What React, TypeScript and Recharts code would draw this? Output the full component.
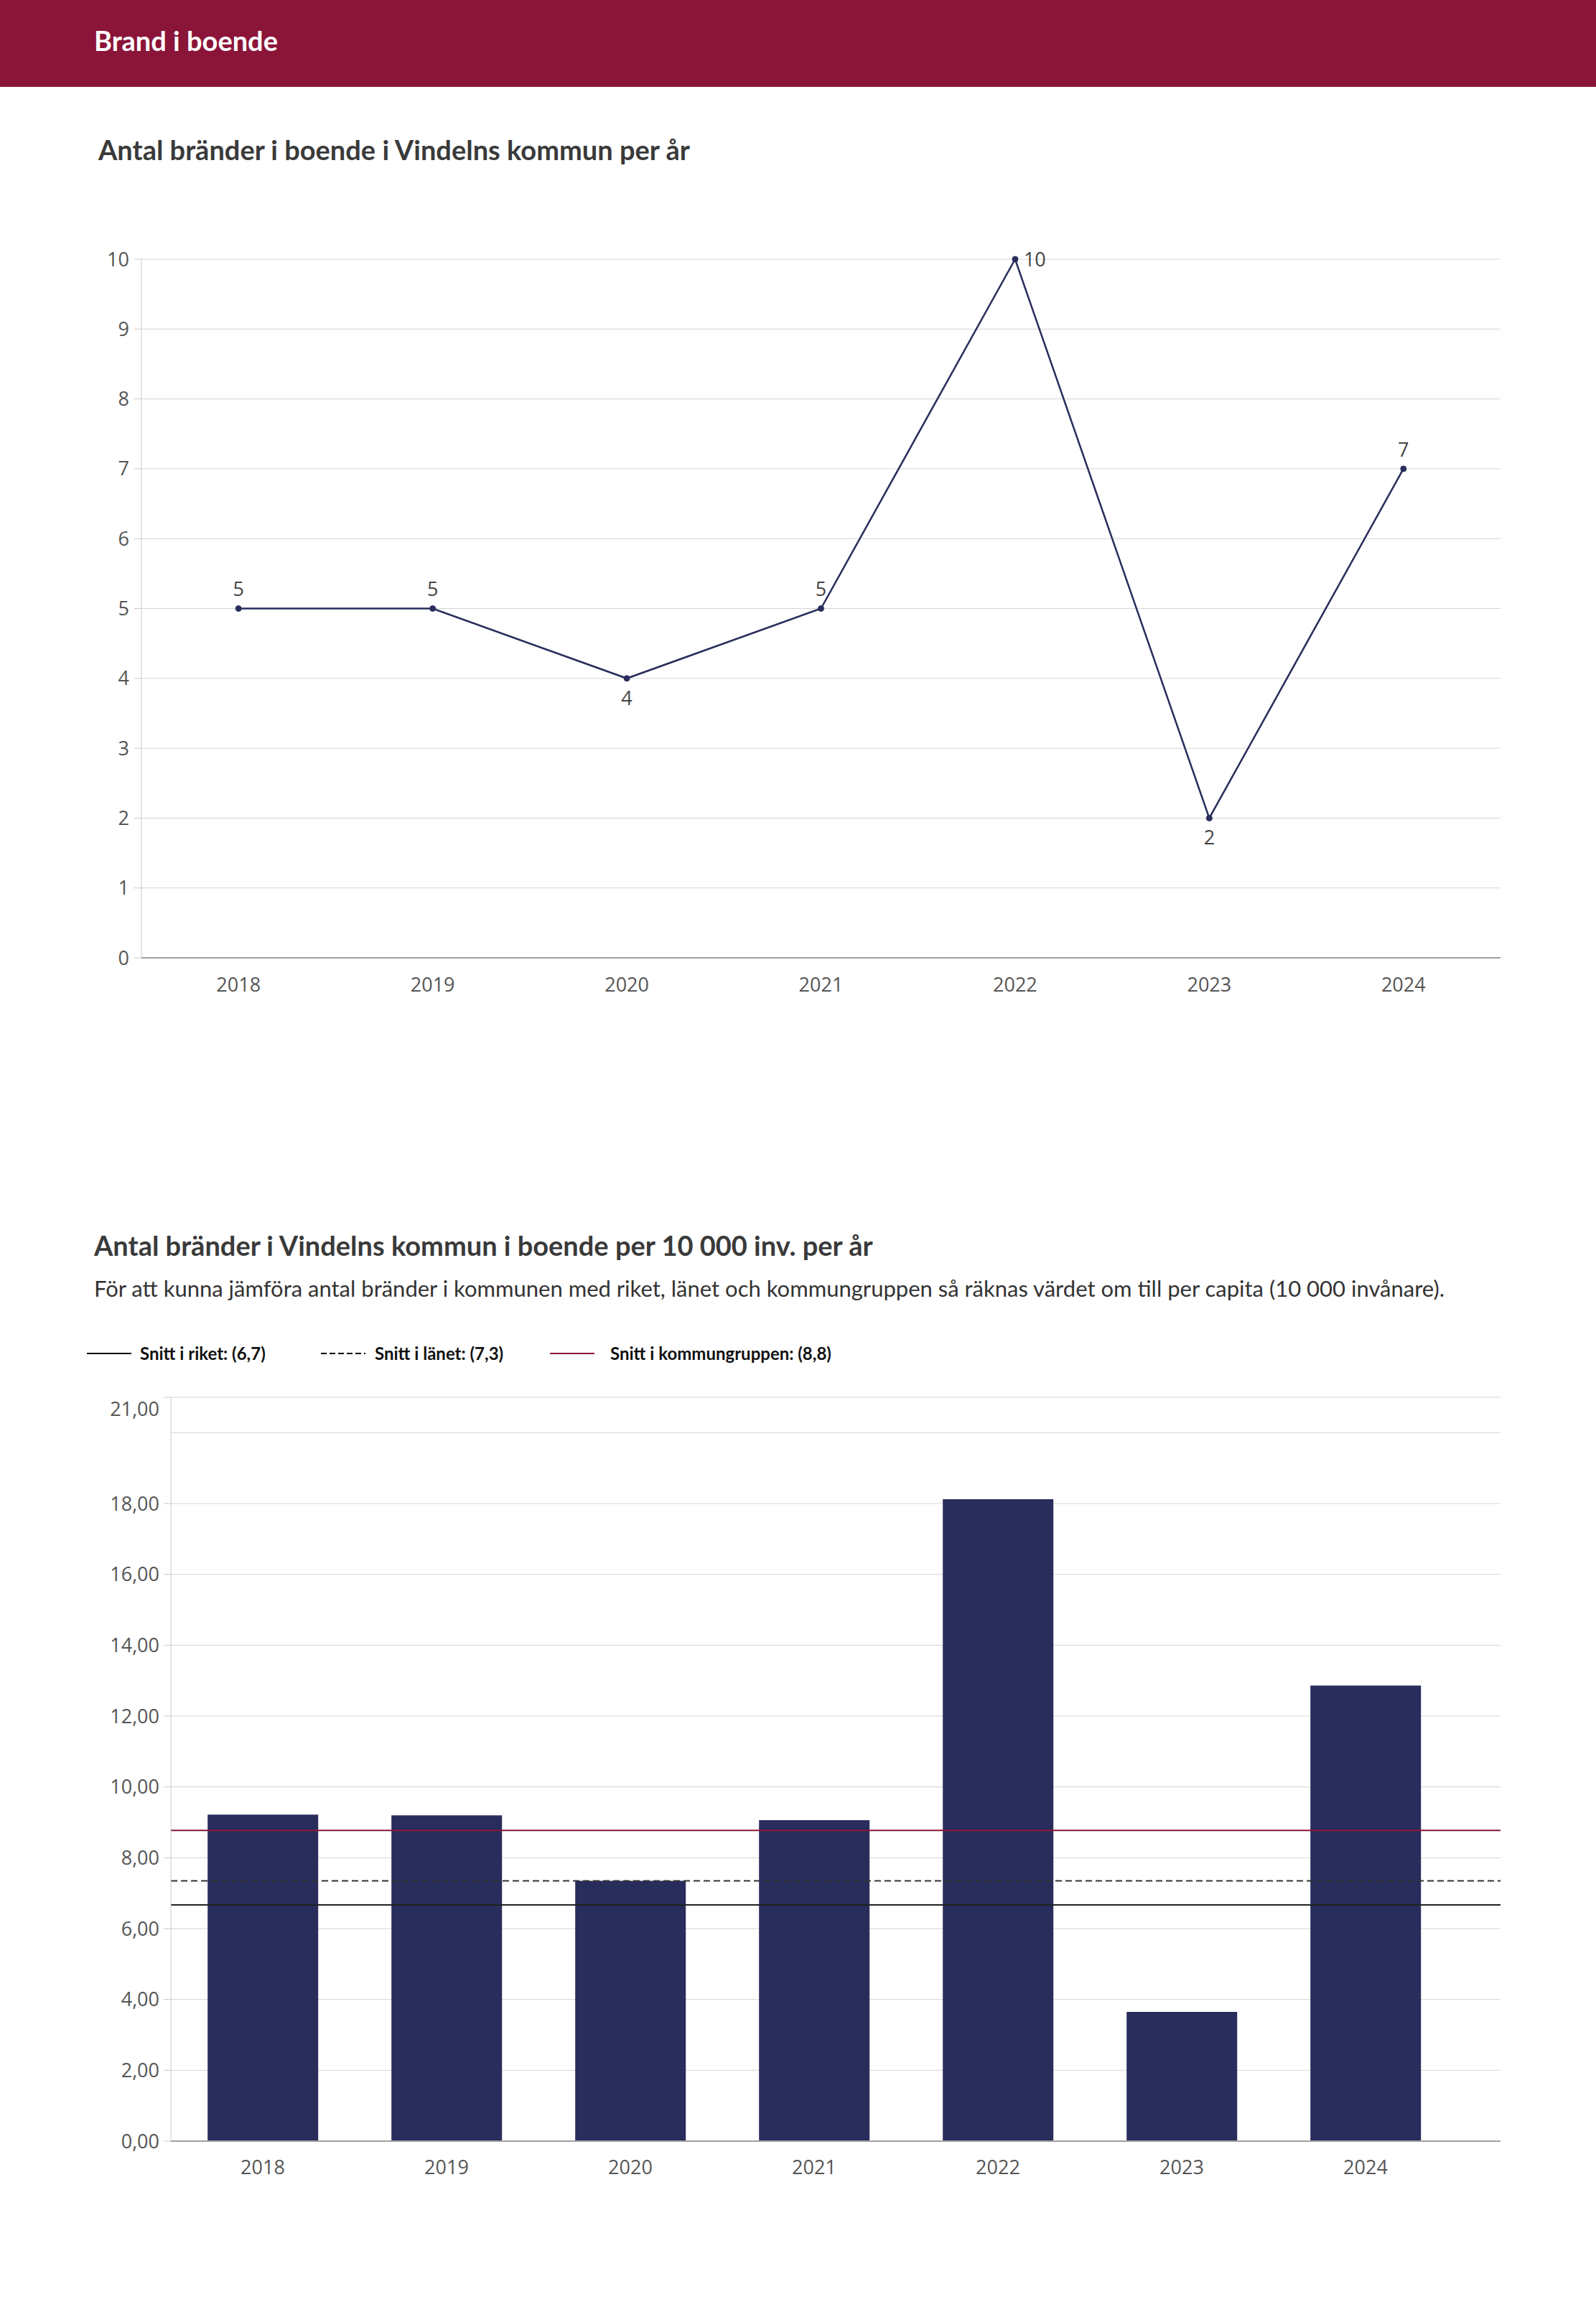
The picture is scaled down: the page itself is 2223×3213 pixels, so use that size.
import React from "react";
import {
  Bar,
  BarChart,
  CartesianGrid,
  LabelList,
  Line,
  LineChart,
  ReferenceLine,
  XAxis,
  YAxis,
} from "recharts";

const years = ["2018", "2019", "2020", "2021", "2022", "2023", "2024"];
const fireCounts = [5, 5, 4, 5, 10, 2, 7];
const firesPer10k = [9.22, 9.2, 7.35, 9.06, 18.12, 3.65, 12.86];
const countTicks = [0, 1, 2, 3, 4, 5, 6, 7, 8, 9, 10];
const rateTicks = [0, 2, 4, 6, 8, 10, 12, 14, 16, 18, 20, 21];
const benchmarkNames = ["Snitt i riket: (6,7)", "Snitt i länet: (7,3)", "Snitt i kommungruppen: (8,8)"];
const benchmarkValues = [6.67, 7.35, 8.77];

const NAVY = "#282d5c";
const MAROON = "#8b1538";
const GRID = "#d4d4d4";
const TICK_FONT = "'Open Sans', sans-serif";
const TEXT_FONT = "Lato, sans-serif";
const TICK_SIZE = 27;

const lineData = years.map((year, i) => ({ year, count: fireCounts[i] }));
const barData = years.map((year, i) => ({ year, rate: firesPer10k[i] }));

const benchmarkStyles = [
  { stroke: "#222", dash: undefined, sample: "#000" },
  { stroke: "#333", dash: "9 5", sample: "#000" },
  { stroke: MAROON, dash: undefined, sample: MAROON },
];
const legendSampleX = [121, 447, 766];
const legendTextX = [195, 522, 850];

const fmtRate = (v: number) => v.toFixed(2).replace(".", ",");

function labelPlacement(i: number) {
  const v = fireCounts[i];
  if (v === Math.max(...fireCounts)) return "right";
  const prev = fireCounts[i - 1];
  const next = fireCounts[i + 1];
  const lowerThanPrev = prev === undefined || v < prev;
  const lowerThanNext = next === undefined || v < next;
  return lowerThanPrev && lowerThanNext ? "below" : "above";
}

function PointLabel(props: any) {
  const { x, y, value, index } = props;
  const where = labelPlacement(index);
  let tx = x;
  let ty = y - 27;
  let anchor = "middle";
  if (where === "below") ty = y + 27;
  if (where === "right") {
    tx = x + 12;
    ty = y;
    anchor = "start";
  }
  return (
    <text x={tx} y={ty} dy="0.36em" textAnchor={anchor} fill="#444" fontSize={TICK_SIZE} fontFamily={TICK_FONT}>
      {value}
    </text>
  );
}

function RateTick(props: any) {
  const { x, y, payload } = props;
  const v = payload.value as number;
  const top = rateTicks[rateTicks.length - 1];
  // the tick just under the top one has no label in the original
  if (v !== top && top - v < 2) return <g />;
  const dy = v === top ? 16 : 0;
  return (
    <g>
      <line x1={x + 6} x2={x + 16} y1={y} y2={y} stroke="#c8c8c8" />
      <text x={x} y={y + dy} dy="0.36em" textAnchor="end" fill="#555" fontSize={TICK_SIZE} fontFamily={TICK_FONT}>
        {fmtRate(v)}
      </text>
    </g>
  );
}

function Text({ x, cy, size, weight, color, children, font }: any) {
  const lh = size * 1.4;
  return (
    <div
      style={{
        position: "absolute",
        left: x,
        top: cy - lh / 2,
        fontSize: size,
        lineHeight: `${lh}px`,
        fontWeight: weight,
        color,
        fontFamily: font || TEXT_FONT,
        whiteSpace: "nowrap",
      }}
    >
      {children}
    </div>
  );
}

export default function App() {
  const linePlotWidth = 2090 - 197;
  const halfBand = linePlotWidth / years.length / 2;

  return (
    <div style={{ position: "absolute", left: 0, top: 0, width: 2223, height: 3213, background: "#fff" }}>
      <div style={{ position: "absolute", left: 0, top: 0, width: 2223, height: 121, background: MAROON }} />
      <Text x={131} cy={57} size={38} weight={700} color="#fff">
        Brand i boende
      </Text>

      <Text x={137} cy={209} size={38} weight={700} color="#3a3a3a">
        Antal bränder i boende i Vindelns kommun per år
      </Text>

      <div style={{ position: "absolute", left: 0, top: 300 }}>
        <LineChart
          width={2223}
          height={1120}
          data={lineData}
          margin={{ top: 61, right: 133, left: 0, bottom: 26 }}
        >
          <CartesianGrid vertical={false} stroke={GRID} />
          <XAxis
            dataKey="year"
            height={60}
            padding={{ left: halfBand, right: halfBand }}
            axisLine={{ stroke: "#a0a0a0", strokeWidth: 2 }}
            tickLine={false}
            tickSize={0}
            tickMargin={28}
            tick={{ fill: "#555", fontSize: TICK_SIZE, fontFamily: TICK_FONT }}
          />
          <YAxis
            width={197}
            domain={[0, 10]}
            ticks={countTicks}
            interval={0}
            axisLine={{ stroke: "#c8c8c8" }}
            tickLine={{ stroke: "#c8c8c8" }}
            tickSize={10}
            tickMargin={7}
            tick={{ fill: "#555", fontSize: TICK_SIZE, fontFamily: TICK_FONT }}
          />
          <Line
            type="linear"
            dataKey="count"
            stroke={NAVY}
            strokeWidth={2.5}
            dot={{ r: 4, fill: NAVY, stroke: NAVY, strokeWidth: 1 }}
            isAnimationActive={false}
          >
            <LabelList dataKey="count" content={PointLabel} />
          </Line>
        </LineChart>
      </div>

      <Text x={131} cy={1735} size={38} weight={700} color="#3a3a3a">
        Antal bränder i Vindelns kommun i boende per 10 000 inv. per år
      </Text>
      <Text x={131} cy={1795} size={31} weight={400} color="#333">
        För att kunna jämföra antal bränder i kommunen med riket, länet och kommungruppen så räknas värdet om till per
        capita (10 000 invånare).
      </Text>

      {benchmarkNames.map((name, i) => {
        const st = benchmarkStyles[i];
        return (
          <React.Fragment key={name}>
            <svg width={64} height={30} style={{ position: "absolute", left: legendSampleX[i], top: 1870 }}>
              <line
                x1={0}
                x2={62}
                y1={15}
                y2={15}
                stroke={st.sample}
                strokeWidth={2}
                strokeDasharray={st.dash ? "8 4" : undefined}
              />
            </svg>
            <div
              style={{
                position: "absolute",
                left: legendTextX[i],
                top: 1868,
                lineHeight: "34px",
                fontSize: 24,
                fontWeight: 700,
                fontFamily: TEXT_FONT,
                color: "#111",
                whiteSpace: "nowrap",
              }}
            >
              {name}
            </div>
          </React.Fragment>
        );
      })}

      <div style={{ position: "absolute", left: 0, top: 1930 }}>
        <BarChart
          width={2223}
          height={1140}
          data={barData}
          barCategoryGap="20%"
          margin={{ top: 16, right: 133, left: 0, bottom: 32 }}
        >
          <CartesianGrid vertical={false} stroke={GRID} />
          <XAxis
            dataKey="year"
            height={56}
            padding={{ left: 0, right: 60 }}
            axisLine={{ stroke: "#a0a0a0", strokeWidth: 2 }}
            tickLine={false}
            tickSize={0}
            tickMargin={27}
            tick={{ fill: "#555", fontSize: TICK_SIZE, fontFamily: TICK_FONT }}
          />
          <YAxis
            width={238}
            domain={[0, 21]}
            ticks={rateTicks}
            interval={0}
            axisLine={{ stroke: "#c8c8c8" }}
            tickLine={false}
            tickSize={10}
            tickMargin={6}
            tick={(p: any) => <RateTick {...p} />}
          />
          <Bar dataKey="rate" fill={NAVY} isAnimationActive={false} />
          {benchmarkValues.map((v, i) => (
            <ReferenceLine
              key={i}
              y={v}
              stroke={benchmarkStyles[i].stroke}
              strokeWidth={2}
              strokeDasharray={benchmarkStyles[i].dash}
            />
          ))}
        </BarChart>
      </div>
    </div>
  );
}
